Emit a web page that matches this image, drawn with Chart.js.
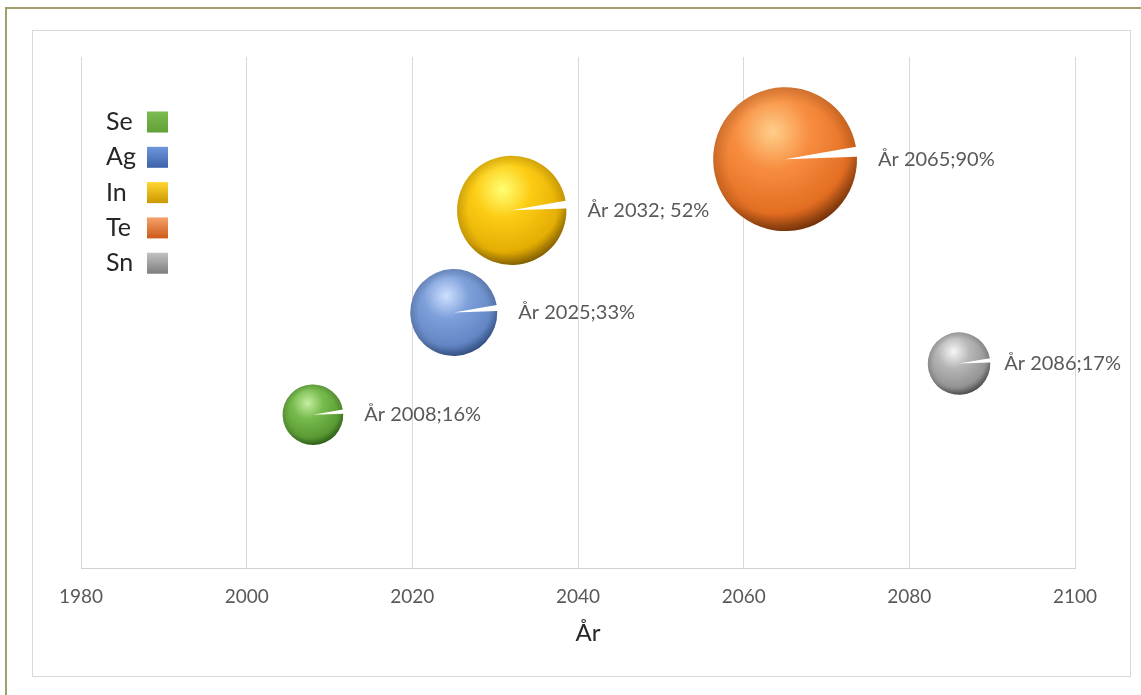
<!DOCTYPE html>
<html lang="sv">
<head>
<meta charset="utf-8">
<title>Grundämnen – År</title>
<script src="https://cdn.jsdelivr.net/npm/chart.js@4.4.1/dist/chart.umd.min.js"></script>
<style>
  html, body { margin: 0; padding: 0; background: #ffffff; }
  #wrap { position: relative; width: 1141px; height: 695px; overflow: hidden; }
  #frame { position: absolute; left: 5px; top: 7px; width: 1200px; height: 800px;
           border-top: 2px solid #a39e6b; border-left: 2px solid #a39e6b; }
  #panel { position: absolute; left: 32px; top: 30px; width: 1097px; height: 645px;
           border: 1px solid #d9d9d9; }
  #chart { position: absolute; left: 0; top: 0; }
</style>
</head>
<body>
<div id="wrap">
  <div id="frame"></div>
  <div id="panel"></div>
  <canvas id="chart" width="1141" height="695"></canvas>
</div>
<script>
// Element series, one bubble each
const elements = ['Se', 'Ag', 'In', 'Te', 'Sn'];
const years = [2008, 2025, 2032, 2065, 2086];
const levels = [30, 50, 70, 80, 40];
const shares = [16, 33, 52, 90, 17];
const pointLabels = ['År 2008;16%', 'År 2025;33%', 'År 2032; 52%', 'År 2065;90%', 'År 2086;17%'];
const xTicks = [1980, 2000, 2020, 2040, 2060, 2080, 2100];
const axisTitle = 'År';

// Bubble area follows the share, so radius grows with its square root
const RADIUS_PER_ROOT = 7.58;

const palettes = [
  { light: '#c4eea0', base: '#76ba4c', mid: '#5a9a34', dark: '#2f6418', boxTop: '#7cbc50', boxBottom: '#62a038' },
  { light: '#cfe0ff', base: '#7d9fda', mid: '#6486c4', dark: '#34548e', boxTop: '#6f95da', boxBottom: '#3c62ab' },
  { light: '#ffff74', base: '#fccc14', mid: '#e4ae04', dark: '#8a6400', boxTop: '#ffd530', boxBottom: '#cc9800' },
  { light: '#ffcf8a', base: '#f78d40', mid: '#e36e22', dark: '#7a3208', boxTop: '#f5a26c', boxBottom: '#cd5a18' },
  { light: '#f6f6f6', base: '#b6b6b6', mid: '#949494', dark: '#4e4e4e', boxTop: '#c2c2c2', boxBottom: '#7e7e7e' }
];

const FONT = 'Lato, "Open Sans", "DejaVu Sans", sans-serif';
const WEDGE_TOP = -10 * Math.PI / 180;
const WEDGE_BOTTOM = -2 * Math.PI / 180;

// Bubbles may overhang the plot edges; keep the plot area where the padding puts it
Chart.BubbleController.prototype.getMaxOverflow = function () { return false; };

function drawSphere(ctx, x, y, r, pal) {
  ctx.save();
  ctx.beginPath();
  ctx.moveTo(x, y);
  ctx.arc(x, y, r, WEDGE_BOTTOM, WEDGE_TOP + 2 * Math.PI, false);
  ctx.closePath();
  const hx = x - 0.17 * r, hy = y - 0.38 * r;
  const g = ctx.createRadialGradient(hx, hy, 0, hx, hy, 1.45 * r);
  g.addColorStop(0, pal.light);
  g.addColorStop(0.36, pal.base);
  g.addColorStop(0.78, pal.mid);
  g.addColorStop(1, pal.dark);
  ctx.fillStyle = g;
  ctx.fill();
  const rim = ctx.createRadialGradient(x, y, 0.8 * r, x, y, r);
  rim.addColorStop(0, 'rgba(0,0,0,0)');
  rim.addColorStop(1, 'rgba(0,0,0,0.14)');
  ctx.fillStyle = rim;
  ctx.fill();
  ctx.restore();
}

// Shaded spheres instead of flat bubbles
const spherePlugin = {
  id: 'spheres',
  beforeDatasetDraw(chart, args) {
    const ctx = chart.ctx;
    args.meta.data.forEach(el => {
      drawSphere(ctx, el.x, el.y, el.options.radius, palettes[args.index]);
    });
    return false;
  }
};

// Value labels to the right of each sphere
const labelPlugin = {
  id: 'pointLabels',
  afterDatasetsDraw(chart) {
    const ctx = chart.ctx;
    ctx.save();
    ctx.font = '20px ' + FONT;
    ctx.fillStyle = '#595959';
    ctx.textAlign = 'left';
    ctx.textBaseline = 'middle';
    chart.data.datasets.forEach((ds, i) => {
      const el = chart.getDatasetMeta(i).data[0];
      const text = pointLabels[i];
      const w = ctx.measureText(text).width;
      let tx = el.x + el.options.radius + 21;
      const maxRight = 1121;
      if (tx + w > maxRight) tx = maxRight - w;
      ctx.fillText(text, tx, el.y);
    });
    ctx.restore();
  }
};

// Legend inside the plot area: name first, colour box after it
const legendPlugin = {
  id: 'sideLegend',
  afterDraw(chart) {
    const ctx = chart.ctx;
    ctx.save();
    ctx.font = '25px ' + FONT;
    ctx.textAlign = 'left';
    ctx.textBaseline = 'middle';
    elements.forEach((name, i) => {
      const cy = 122 + i * 35.3;
      ctx.fillStyle = '#262626';
      ctx.fillText(name, 106, cy);
      const bx = 147, by = cy - 10.5, bs = 21;
      const g = ctx.createLinearGradient(0, by, 0, by + bs);
      g.addColorStop(0, palettes[i].boxTop);
      g.addColorStop(1, palettes[i].boxBottom);
      ctx.fillStyle = g;
      ctx.fillRect(bx, by, bs, bs);
    });
    // axis title
    ctx.font = '24px ' + FONT;
    ctx.fillStyle = '#262626';
    ctx.textAlign = 'center';
    ctx.fillText(axisTitle, 588, 633);
    ctx.restore();
  }
};

const datasets = elements.map((name, i) => ({
  label: name,
  data: [{ x: years[i], y: levels[i], r: RADIUS_PER_ROOT * Math.sqrt(shares[i]) }],
  backgroundColor: palettes[i].base,
  borderWidth: 0,
  clip: false
}));

new Chart(document.getElementById('chart'), {
  type: 'bubble',
  data: { datasets },
  options: {
    responsive: false,
    animation: false,
    devicePixelRatio: 1,
    layout: { padding: { left: 81, right: 66, top: 57, bottom: 0 } },
    plugins: {
      legend: { display: false },
      tooltip: { enabled: false }
    },
    scales: {
      x: {
        type: 'linear',
        min: xTicks[0],
        max: xTicks[xTicks.length - 1],
        afterBuildTicks(scale) { scale.ticks = xTicks.map(v => ({ value: v })); },
        afterFit(scale) { scale.height = 127; },
        grid: { color: '#d9d9d9', lineWidth: 1, drawTicks: false },
        border: { display: true, color: '#d0d0d0', width: 1 },
        ticks: {
          padding: 17,
          color: '#595959',
          font: { family: FONT, size: 19 },
          callback: v => String(v)
        }
      },
      y: { display: false, min: 0, max: 100 }
    }
  },
  plugins: [spherePlugin, labelPlugin, legendPlugin]
});
</script>
</body>
</html>
